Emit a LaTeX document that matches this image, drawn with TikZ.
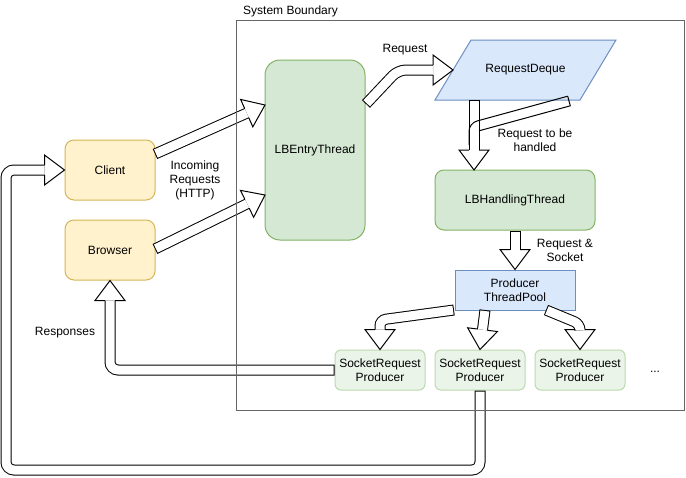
\documentclass[tikz,border=0pt]{standalone}
\usepackage{fontspec}
\setmainfont{Liberation Sans}
\usetikzlibrary{calc}
\definecolor{yfill}{HTML}{FFF2CC}
\definecolor{ystroke}{HTML}{D6B656}
\definecolor{gfill}{HTML}{D5E8D4}
\definecolor{gstroke}{HTML}{82B366}
\definecolor{bfill}{HTML}{DAE8FC}
\definecolor{bstroke}{HTML}{6C8EBF}
\definecolor{lgfill}{HTML}{EAF4E9}
\definecolor{lgstroke}{HTML}{BCDAAE}
\definecolor{bound}{HTML}{666666}
\tikzset{
  basebox/.style={line width=1pt, inner sep=0pt, align=center},
  ybox/.style={basebox, draw=ystroke, fill=yfill, rounded corners=9pt, minimum width=90pt, minimum height=60pt},
  gbox/.style={basebox, draw=gstroke, fill=gfill},
  lgbox/.style={basebox, draw=lgstroke, fill=lgfill, rounded corners=6pt, minimum width=90pt, minimum height=40pt},
  bbox/.style={basebox, draw=bstroke, fill=bfill},
  lbl/.style={align=center, inner sep=0pt},
  fbody/.style={draw=black, line width=11pt},
  fcore/.style={draw=white, line width=9pt, shorten <=1pt},
  fline/.style={draw=black, line width=1pt},
  fhead/.style={draw=black, line width=1pt, line join=miter},
}
% #1 options, #2 path up to point P, #3 P, #4 tip T
\newcommand{\flexarr}[4]{%
  \coordinate (fb) at ($#4!20pt!#3$);
  \draw[fbody,#1] #2 -- (fb);
  \draw[fcore,#1] #2 -- (fb);
  \draw[fhead] ($(fb)!5pt!90:#4$) -- ($(fb)!15pt!90:#4$) -- #4 -- ($(fb)!15pt!-90:#4$) -- ($(fb)!5pt!-90:#4$);
}
\begin{document}
\begin{tikzpicture}[x=1pt,y=-1pt,font=\fontsize{12}{14}\selectfont]
\useasboundingbox (0,0) rectangle (686,477);
\fill[white] (0,0) rectangle (686,477);

% nodes
\node[ybox] (client) at (110,170) {Client};
\node[ybox] (browser) at (110,250) {Browser};
\node[gbox, rounded corners=15pt, minimum width=100pt, minimum height=180pt] (lbe) at (315,150) {LBEntryThread};
\draw[bbox] (471,40) -- (616,40) -- (580,100) -- (435,100) -- cycle;
\node[lbl] (deque) at (525.5,70) {RequestDeque};
\node[gbox, rounded corners=9pt, minimum width=160pt, minimum height=60pt] (lbh) at (515,200) {LBHandlingThread};
\node[bbox, minimum width=120pt, minimum height=40pt] (pool) at (515,290) {Producer\\ThreadPool};
\node[lgbox] (srp1) at (380,370) {SocketRequest\\Producer};
\node[lgbox] (srp2) at (480,370) {SocketRequest\\Producer};
\node[lgbox] (srp3) at (580,370) {SocketRequest\\Producer};
\node[lbl] (dots) at (655,372) {...};

% labels
\node[lbl, anchor=west] (sysl) at (243,11) {System Boundary};
\node[lbl] (incl) at (195,180) {Incoming\\Requests\\(HTTP)};
\node[lbl] (reql) at (405,50) {Request};
\node[lbl] (rtbl) at (535,140) {Request to be\\handled};
\node[lbl] (rsl) at (565,250) {Request \&\\Socket};
\node[lbl] (resl) at (65,333) {Responses};

% coordinates
\coordinate (c1) at (155,154);
\coordinate (lbe1) at (265,105);
\coordinate (b1) at (155,249);
\coordinate (lbe2) at (265,195);
\coordinate (e1) at (366,104);
\coordinate (e2) at (398,70);
\coordinate (dqin) at (453,70);
\coordinate (dqout) at (474,100);
\coordinate (lbhin) at (474,170);
\coordinate (p1) at (454,310);
\coordinate (p1k) at (380,320);
\coordinate (p2) at (485,310);
\coordinate (p3) at (546,310);
\coordinate (p3k) at (580,324);

% arrows
\flexarr{}{(c1)}{(c1)}{(lbe1)}
\flexarr{}{(b1)}{(b1)}{(lbe2)}
\flexarr{rounded corners=8pt}{(e1) -- (e2)}{(e2)}{(dqin)}
\flexarr{}{(dqout)}{(dqout)}{(lbhin)}
\draw[fline] (567.7,96.2) -- (570.3,105.8) -- (479,130.8);
\draw[fline, rounded corners=8pt] (567.7,96.2) -- (469,123.2) -- (469,145);
\flexarr{}{(lbh.south)}{(lbh.south)}{(pool.north)}
\flexarr{rounded corners=6pt}{(p1) -- (p1k)}{(p1k)}{(srp1.north)}
\flexarr{}{(p2)}{(p2)}{(srp2.north)}
\flexarr{rounded corners=6pt}{(p3) -- (p3k)}{(p3k)}{(srp3.north)}
\flexarr{rounded corners=8pt}{(srp1.west) -- (110,370)}{(110,370)}{(browser.south)}
\flexarr{rounded corners=8pt}{(srp2.south) -- (480,470) -- (6,470) -- (6,170)}{(6,170)}{(client.west)}

% system boundary
\draw[bound, line width=1pt] (236,20) rectangle (684,410);
\end{tikzpicture}
\end{document}
